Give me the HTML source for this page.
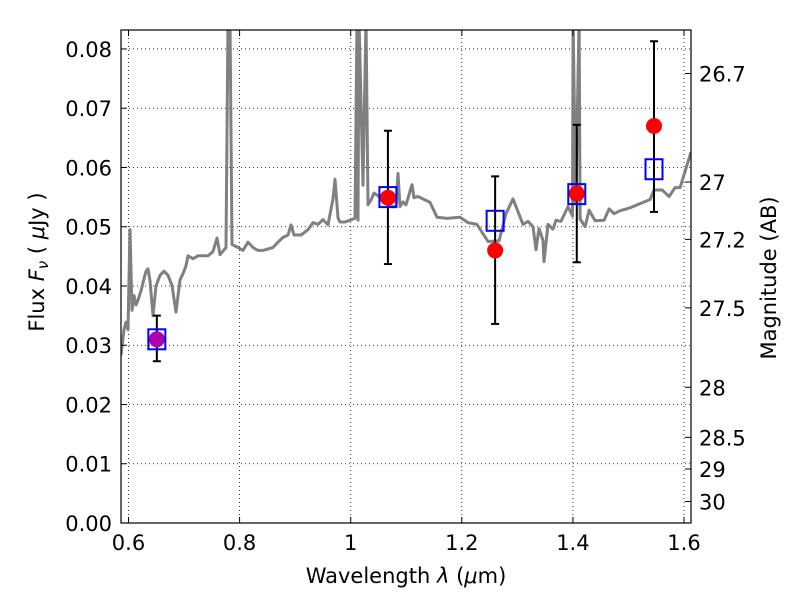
<!DOCTYPE html>
<html><head><meta charset="utf-8"><style>
body{margin:0;background:#fff}
svg{display:block;font-family:"DejaVu Sans","Liberation Sans",sans-serif}
</style></head><body>
<svg id="chart" width="800" height="600"></svg>
<script>
const specLam=[0.5865,0.5919,0.5955,0.5991,0.6027,0.6063,0.6099,0.6135,0.6171,0.6225,0.6279,0.6315,0.6351,0.6387,0.6441,0.6495,0.6567,0.6639,0.6711,0.6783,0.6855,0.6927,0.6999,0.7035,0.7071,0.7161,0.7251,0.7431,0.7521,0.7593,0.7647,0.7755,0.7791,0.7827,0.7863,0.7971,0.8061,0.8151,0.8241,0.8331,0.8421,0.8601,0.8691,0.8781,0.8871,0.8925,0.8979,0.9105,0.9231,0.9321,0.9411,0.9501,0.9591,0.9681,0.9717,0.9771,0.9807,0.9897,0.9987,1.0077,1.0113,1.0131,1.0149,1.0221,1.0275,1.0311,1.0365,1.0419,1.0545,1.0635,1.0725,1.0815,1.0851,1.0887,1.0941,1.0995,1.1103,1.1139,1.1211,1.1427,1.1553,1.1733,1.1967,1.2111,1.2273,1.2471,1.2669,1.2795,1.2921,1.3101,1.3191,1.3281,1.3335,1.3389,1.3461,1.3479,1.3551,1.3641,1.3695,1.3785,1.3911,1.3993,1.4003,1.4050,1.4112,1.4130,1.4220,1.4292,1.4400,1.4562,1.4652,1.4742,1.4850,1.5030,1.5210,1.5390,1.5462,1.5606,1.5732,1.5840,1.5930,1.6126];
const specFlux=[0.0283,0.0326,0.0339,0.0326,0.0495,0.0359,0.0384,0.0368,0.0376,0.0392,0.0412,0.0425,0.0429,0.0409,0.0350,0.0400,0.0418,0.0425,0.0418,0.0401,0.0356,0.0410,0.0425,0.0434,0.0451,0.0446,0.0451,0.0451,0.0458,0.0481,0.0453,0.0465,0.085,0.085,0.0470,0.0465,0.0460,0.0474,0.0465,0.0460,0.0460,0.0465,0.0474,0.0482,0.0486,0.0503,0.0486,0.0486,0.0495,0.0507,0.0504,0.0512,0.0503,0.0547,0.0580,0.0515,0.0508,0.0508,0.0511,0.0514,0.085,0.0511,0.085,0.0570,0.085,0.0537,0.0545,0.0557,0.0549,0.0542,0.0534,0.0534,0.0590,0.0534,0.0542,0.0537,0.0571,0.0549,0.0551,0.0541,0.0516,0.0514,0.0516,0.0507,0.0504,0.0475,0.0476,0.0522,0.0547,0.0504,0.0509,0.0500,0.0461,0.0497,0.0477,0.0441,0.0504,0.0496,0.0511,0.0509,0.0534,0.0518,0.085,0.0540,0.085,0.0513,0.0500,0.0528,0.0510,0.0511,0.0530,0.0522,0.0527,0.0532,0.0539,0.0546,0.0562,0.0562,0.0551,0.0566,0.0566,0.0626];
const photLam=[0.651,1.067,1.260,1.407,1.546];
const photFlux=[0.0310,0.0549,0.0460,0.0556,0.0670];
const photLo=[0.0273,0.0437,0.0336,0.0440,0.0525];
const photHi=[0.0350,0.0662,0.0585,0.0672,0.0813];
const modelFlux=[0.0310,0.0550,0.0510,0.0555,0.0597];
const xTicks=[0.6,0.8,1.0,1.2,1.4,1.6];
const xTickLabels=["0.6","0.8","1","1.2","1.4","1.6"];
const yTicks=[0,0.01,0.02,0.03,0.04,0.05,0.06,0.07,0.08];
const magTicks=[26.7,27,27.2,27.5,28,28.5,29,30];

const NS="http://www.w3.org/2000/svg";
const svg=document.getElementById('chart');
const L=121,R=691,T=30,B=523;
const xmin=0.5865,xmax=1.6126,ymin=0,ymax=0.0832;
const sx=v=>L+(v-xmin)/(xmax-xmin)*(R-L);
const sy=v=>B-(v-ymin)/(ymax-ymin)*(B-T);
function mk(tag,attrs,parent){const e=document.createElementNS(NS,tag);for(const k in attrs)e.setAttribute(k,attrs[k]);(parent||svg).appendChild(e);return e;}
const defs=mk('defs',{});
const cp=mk('clipPath',{id:'clip'},defs);mk('rect',{x:L,y:T,width:R-L,height:B-T},cp);

const grid=mk('g',{});


xTicks.forEach(v=>{const x=sx(v);mk('line',{x1:x,x2:x,y1:T,y2:B,stroke:'#000','stroke-width':0.8,'stroke-dasharray':'1,3'},grid);});
yTicks.forEach(v=>{const y=sy(v);mk('line',{x1:L,x2:R,y1:y,y2:y,stroke:'#000','stroke-width':0.8,'stroke-dasharray':'1,3'},grid);});

const pts=specLam.map((l,i)=>sx(l).toFixed(1)+','+sy(specFlux[i]).toFixed(1)).join(' ');
const spec=mk('polyline',{points:pts,fill:'none',stroke:'#808080','stroke-width':3,'clip-path':'url(#clip)','stroke-linejoin':'round'});



photLam.forEach((l,i)=>{
  const x=sx(l);
  const g=mk('g',{});
  
  
  mk('line',{x1:x,x2:x,y1:sy(photLo[i]),y2:sy(photHi[i]),stroke:'#000','stroke-width':2},g);
  mk('line',{x1:x-4,x2:x+4,y1:sy(photLo[i]),y2:sy(photLo[i]),stroke:'#000','stroke-width':2},g);
  mk('line',{x1:x-4,x2:x+4,y1:sy(photHi[i]),y2:sy(photHi[i]),stroke:'#000','stroke-width':2},g);
  mk('circle',{cx:x,cy:sy(photFlux[i]),r:8,fill:i===0?'#b000b0':'#ff0000'},g);
  const s=mk('rect',{x:x-8.5,y:sy(modelFlux[i])-10,width:17,height:20,fill:'none',stroke:'#0000ff','stroke-width':2},g);
  
  
});

const ax=mk('g',{});


mk('rect',{x:L,y:T,width:R-L,height:B-T,fill:'none',stroke:'#000','stroke-width':1.2},ax);
xTicks.forEach((v,i)=>{const x=sx(v);
  mk('line',{x1:x,x2:x,y1:B,y2:B-6,stroke:'#000'},ax);mk('line',{x1:x,x2:x,y1:T,y2:T+6,stroke:'#000'},ax);
  const t=mk('text',{x:x,y:B+27,'font-size':21,'text-anchor':'middle'},ax);t.textContent=xTickLabels[i];
  
  });
yTicks.forEach(v=>{const y=sy(v);
  mk('line',{x1:L,x2:L+6,y1:y,y2:y,stroke:'#000'},ax);
  const t=mk('text',{x:L-9,y:y+8,'font-size':21,'text-anchor':'end'},ax);t.textContent=v.toFixed(2);
  
  });
magTicks.forEach(m=>{const f=Math.pow(10,(23.9-m)/2.5);const y=sy(f);
  mk('line',{x1:R,x2:R-6,y1:y,y2:y,stroke:'#000'},ax);
  const t=mk('text',{x:R+8,y:y+8,'font-size':21},ax);t.textContent=String(m);
  
  });

const xt=mk('text',{x:406,y:583,'font-size':21,'text-anchor':'middle'});
xt.innerHTML='Wavelength  <tspan font-style="italic">λ</tspan> (<tspan font-style="italic">μ</tspan>m)';


const yt=mk('text',{x:0,y:0,'font-size':21,'text-anchor':'middle',transform:'translate(44,262) rotate(-90)'});
yt.innerHTML='Flux  <tspan font-style="italic">F</tspan><tspan font-style="italic" font-size="15" dy="4">ν</tspan><tspan dy="-4">  ( </tspan><tspan font-style="italic">μ</tspan>Jy )';


const rt=mk('text',{x:0,y:0,'font-size':21,'text-anchor':'middle',transform:'translate(776,278) rotate(-90)'});
rt.textContent='Magnitude (AB)';


</script>
</body></html>
